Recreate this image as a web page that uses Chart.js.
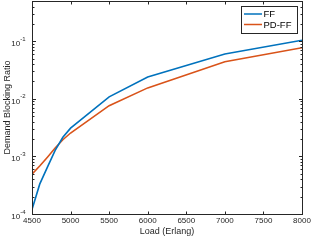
<!DOCTYPE html>
<html lang="en">
<head>
    <meta charset="UTF-8">
    <title>Demand Blocking Ratio</title>
    <script src="https://cdn.jsdelivr.net/npm/chart.js"></script>
    <style>
        html, body {
            margin: 0;
            padding: 0;
            background-color: white;
        }
        .chart-container {
            position: relative;
            width: 312px;
            height: 240px;
        }
    </style>
</head>
<body>
    <div class="chart-container">
        <canvas id="blockingChart"></canvas>
    </div>

    <script>
        // values
        const loads = [4500, 4600, 4700, 4800, 4900, 5000, 5500, 6000, 7000, 8000];
        const ffRatio = [1.2e-4, 3.3e-4, 6.5e-4, 1.27e-3, 2.15e-3, 3.1e-3, 1.08e-2, 2.4e-2, 6.0e-2, 1.04e-1];
        const pdffRatio = [4.9e-4, 6.8e-4, 9.7e-4, 1.4e-3, 1.95e-3, 2.55e-3, 7.6e-3, 1.55e-2, 4.4e-2, 7.7e-2];
        const xTicks = [4500, 5000, 5500, 6000, 6500, 7000, 7500, 8000];
        const yExponents = [-4, -3, -2, -1];
        const seriesNames = ['FF', 'PD-FF'];

        const axisColor = '#262626';
        const fontFamily = '"Liberation Sans", Arial, sans-serif';

        function toPoints(ys) {
            return loads.map((x, i) => ({ x: x, y: ys[i] }));
        }

        // MATLAB style box axes: inward ticks, log minor ticks, 10^n labels, legend
        const matlabAxes = {
            id: 'matlabAxes',
            afterDraw(chart) {
                const ctx = chart.ctx;
                const area = chart.chartArea;
                const xs = chart.scales.x;
                const ys = chart.scales.y;
                const L = Math.round(area.left) + 0.5;
                const R = Math.round(area.right) + 0.5;
                const T = Math.round(area.top) + 0.5;
                const B = Math.round(area.bottom) + 0.5;

                ctx.save();
                ctx.strokeStyle = axisColor;
                ctx.lineWidth = 1;
                ctx.strokeRect(L, T, R - L, B - T);

                ctx.beginPath();
                // x ticks, bottom and top
                xTicks.forEach(v => {
                    const px = Math.round(xs.getPixelForValue(v)) + 0.5;
                    ctx.moveTo(px, B); ctx.lineTo(px, B - 3);
                    ctx.moveTo(px, T); ctx.lineTo(px, T + 3);
                });
                // y major and minor ticks, left and right
                yExponents.forEach(e => {
                    for (let m = 1; m <= 9; m++) {
                        const v = m * Math.pow(10, e);
                        if (v > ys.max * 1.0001) continue;
                        const py = Math.round(ys.getPixelForValue(v)) + 0.5;
                        const len = m === 1 ? 3.5 : 2;
                        ctx.moveTo(L, py); ctx.lineTo(L + len, py);
                        ctx.moveTo(R, py); ctx.lineTo(R - len, py);
                    }
                });
                ctx.stroke();

                // x tick labels
                ctx.fillStyle = axisColor;
                ctx.font = '8px ' + fontFamily;
                ctx.textAlign = 'center';
                ctx.textBaseline = 'top';
                xTicks.forEach(v => {
                    ctx.fillText(String(v), xs.getPixelForValue(v), B + 2.5);
                });

                // y tick labels 10^n
                yExponents.forEach(e => {
                    const py = ys.getPixelForValue(Math.pow(10, e));
                    const sup = String(e);
                    ctx.font = '6px ' + fontFamily;
                    const supW = ctx.measureText(sup).width;
                    ctx.textAlign = 'right';
                    ctx.textBaseline = 'alphabetic';
                    ctx.fillText(sup, L - 7, py - 0.5);
                    ctx.font = '8px ' + fontFamily;
                    ctx.fillText('10', L - 7 - supW, py + 5);
                });

                // axis titles
                ctx.font = '9px ' + fontFamily;
                ctx.textAlign = 'center';
                ctx.textBaseline = 'middle';
                ctx.fillText('Load (Erlang)', (area.left + area.right) / 2, 232);
                ctx.save();
                ctx.translate(8, (area.top + area.bottom) / 2);
                ctx.rotate(-Math.PI / 2);
                ctx.fillText('Demand Blocking Ratio', 0, 0);
                ctx.restore();

                // legend box in the upper right corner
                const lx = 241.5, ly = 6.5, lw = 56, lh = 27;
                ctx.fillStyle = 'white';
                ctx.fillRect(lx, ly, lw, lh);
                ctx.strokeStyle = axisColor;
                ctx.strokeRect(lx, ly, lw, lh);
                chart.data.datasets.forEach((ds, i) => {
                    const y = 14 + i * 10.5;
                    ctx.strokeStyle = ds.borderColor;
                    ctx.lineWidth = 1.5;
                    ctx.beginPath();
                    ctx.moveTo(244, y);
                    ctx.lineTo(262, y);
                    ctx.stroke();
                    ctx.fillStyle = '#000';
                    ctx.font = '9.5px ' + fontFamily;
                    ctx.textAlign = 'left';
                    ctx.textBaseline = 'middle';
                    ctx.fillText(ds.label, 263.5, y + 0.5);
                });
                ctx.restore();
            }
        };

        const ctx = document.getElementById('blockingChart').getContext('2d');
        new Chart(ctx, {
            type: 'line',
            data: {
                datasets: [
                    {
                        label: seriesNames[0],
                        data: toPoints(ffRatio),
                        borderColor: '#0072BD',
                        borderWidth: 1.6,
                        pointRadius: 0,
                        fill: false,
                        tension: 0
                    },
                    {
                        label: seriesNames[1],
                        data: toPoints(pdffRatio),
                        borderColor: '#D95319',
                        borderWidth: 1.6,
                        pointRadius: 0,
                        fill: false,
                        tension: 0
                    }
                ]
            },
            options: {
                responsive: true,
                maintainAspectRatio: false,
                animation: false,
                layout: {
                    padding: { left: 32, right: 10, top: 1, bottom: 26 }
                },
                plugins: {
                    legend: { display: false },
                    tooltip: { enabled: false }
                },
                scales: {
                    x: { type: 'linear', min: 4500, max: 8000, display: false },
                    y: { type: 'logarithmic', min: 1e-4, max: 0.5, display: false }
                }
            },
            plugins: [matlabAxes]
        });
    </script>
</body>
</html>
